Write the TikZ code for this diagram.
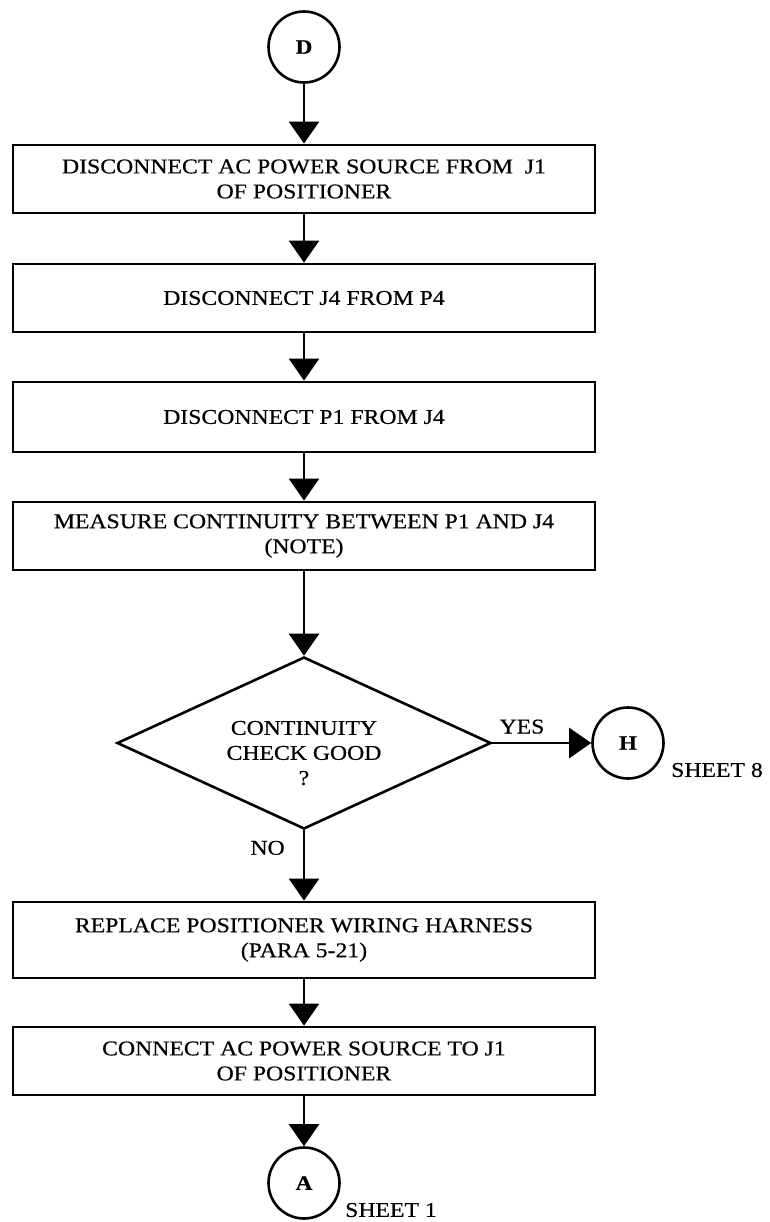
\documentclass[tikz,border=0pt]{standalone}
\usepackage{fontspec}
\setmainfont{Liberation Serif}[FakeStretch=1.13, FakeBold=0.5]
\usetikzlibrary{shapes.geometric,arrows.meta}
\begin{document}
\begin{tikzpicture}[x=1pt,y=-1pt,
  every node/.style={font=\fontsize{21}{25}\selectfont},
  procbox/.style={draw, line width=2.8pt, minimum width=582pt, align=center, inner sep=0pt},
  conn/.style={draw, circle, line width=2.6pt, minimum size=71pt, inner sep=0pt, font=\fontsize{20.5}{22}\selectfont\bfseries},
  decision/.style={draw, diamond, line width=2.6pt, minimum width=374pt, minimum height=172pt, inner sep=0pt},
  flow/.style={line width=2.6pt, -{Triangle[width=30pt,length=22pt]}},
  lbl/.style={inner sep=0pt, align=center}
]
\useasboundingbox (0,0) rectangle (770,1222);

\node[conn] (D) at (304,47) {D};
\node[procbox, minimum height=68pt] (b1) at (304,179) {DISCONNECT AC POWER SOURCE FROM~ J1\\OF POSITIONER};
\node[procbox, minimum height=68pt] (b2) at (304,298) {DISCONNECT J4 FROM P4};
\node[procbox, minimum height=70pt] (b3) at (304,417) {DISCONNECT P1 FROM J4};
\node[procbox, minimum height=68pt] (b4) at (304,536) {MEASURE CONTINUITY BETWEEN P1 AND J4\\(NOTE)};
\node[decision] (q) at (304,743) {};
\node[lbl] (qtext) at (304,753) {CONTINUITY\\CHECK GOOD\\?};
\node[conn] (H) at (628,743) {H};
\node[lbl] (s8) at (717,770) {SHEET 8};
\node[procbox, minimum height=76pt] (b5) at (304,940) {REPLACE POSITIONER WIRING HARNESS\\(PARA 5-21)};
\node[procbox, minimum height=68pt] (b6) at (304,1061) {CONNECT AC POWER SOURCE TO J1\\OF POSITIONER};
\node[conn] (A) at (304,1183) {A};
\node[lbl] (s1) at (391,1210) {SHEET 1};

\draw[flow] (D.south) -- (b1.north);
\draw[flow] (b1.south) -- (b2.north);
\draw[flow] (b2.south) -- (b3.north);
\draw[flow] (b3.south) -- (b4.north);
\draw[flow] (b4.south) -- (q.north);
\draw[flow] (q.east) -- node[lbl, above=8pt, pos=0.3] (yes) {YES} (H.west);
\draw[flow] (q.south) -- node[lbl, left=18pt, pos=0.25] (no) {NO} (b5.north);
\draw[flow] (b5.south) -- (b6.north);
\draw[flow] (b6.south) -- (A.north);
\end{tikzpicture}
\end{document}
